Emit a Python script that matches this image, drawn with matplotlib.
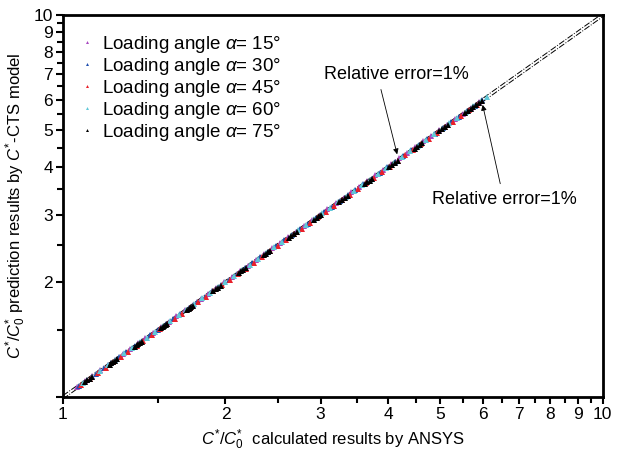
import matplotlib
matplotlib.use('Agg')
import matplotlib.pyplot as plt
from matplotlib.ticker import FixedLocator, NullFormatter, FixedFormatter

plt.rcParams['font.family'] = ['Liberation Sans', 'DejaVu Sans']
plt.rcParams['mathtext.fontset'] = 'custom'
plt.rcParams['mathtext.rm'] = 'Liberation Sans'
plt.rcParams['mathtext.it'] = 'Liberation Sans:italic'

# data (x = ANSYS, y = C*-CTS model)
x15 = [1.06, 1.10, 1.13, 1.17, 1.21, 1.25, 1.29, 1.33, 1.38, 1.42, 1.47, 1.52, 1.57, 1.62,
       1.68, 1.74, 1.80, 1.86, 1.92, 1.99, 2.06, 2.13, 2.20, 2.28, 2.36, 2.44, 2.52, 2.61,
       2.70, 2.79, 2.89, 2.99, 3.09, 3.20, 3.31, 3.42, 3.54, 3.66, 3.79, 3.92, 4.06, 4.20,
       4.34, 4.49, 4.65, 4.81, 4.97, 5.14, 5.32, 5.50, 5.69, 5.89]
y15 = [1.064, 1.104, 1.135, 1.175, 1.215, 1.255, 1.295, 1.336, 1.386, 1.426, 1.476, 1.526,
       1.576, 1.627, 1.687, 1.747, 1.807, 1.867, 1.928, 1.998, 2.068, 2.139, 2.209, 2.289,
       2.369, 2.450, 2.530, 2.620, 2.711, 2.801, 2.902, 3.002, 3.102, 3.213, 3.323, 3.434,
       3.554, 3.675, 3.805, 3.936, 4.076, 4.217, 4.357, 4.508, 4.669, 4.829, 4.990, 5.161,
       5.341, 5.522, 5.713, 5.914]

x30 = [1.07, 1.11, 1.15, 1.19, 1.23, 1.27, 1.31, 1.36, 1.40, 1.45, 1.50, 1.55, 1.60, 1.65,
       1.71, 1.77, 1.83, 1.89, 1.96, 2.03, 2.10, 2.17, 2.24, 2.32, 2.40, 2.48, 2.57, 2.66,
       2.75, 2.84, 2.94, 3.04, 3.15, 3.26, 3.37, 3.48, 3.60, 3.73, 3.86, 3.99, 4.13, 4.27,
       4.42, 4.57, 4.73, 4.89, 5.06, 5.23, 5.41, 5.60, 5.79, 5.98]
y30 = [1.071, 1.111, 1.151, 1.191, 1.231, 1.271, 1.311, 1.361, 1.401, 1.451, 1.502, 1.552,
       1.602, 1.652, 1.712, 1.772, 1.832, 1.892, 1.962, 2.032, 2.102, 2.172, 2.242, 2.322,
       2.402, 2.482, 2.573, 2.663, 2.753, 2.843, 2.943, 3.043, 3.153, 3.263, 3.373, 3.483,
       3.604, 3.734, 3.864, 3.994, 4.134, 4.274, 4.424, 4.575, 4.735, 4.895, 5.065, 5.235,
       5.415, 5.606, 5.796, 5.986]

x45 = [1.08, 1.12, 1.16, 1.20, 1.24, 1.28, 1.32, 1.37, 1.41, 1.46, 1.51, 1.56, 1.61, 1.66,
       1.72, 1.78, 1.84, 1.90, 1.97, 2.04, 2.11, 2.18, 2.26, 2.34, 2.42, 2.50, 2.59, 2.68,
       2.77, 2.87, 2.97, 3.07, 3.18, 3.29, 3.40, 3.52, 3.64, 3.77, 3.90, 4.03, 4.17, 4.31,
       4.46, 4.61, 4.77, 4.93, 5.10, 5.28, 5.46, 5.65, 5.84]
y45 = [1.076, 1.116, 1.155, 1.195, 1.235, 1.275, 1.315, 1.365, 1.404, 1.454, 1.504, 1.554,
       1.604, 1.653, 1.713, 1.773, 1.833, 1.892, 1.962, 2.032, 2.102, 2.171, 2.251, 2.331,
       2.410, 2.490, 2.580, 2.669, 2.759, 2.859, 2.958, 3.058, 3.167, 3.277, 3.386, 3.506,
       3.625, 3.755, 3.884, 4.014, 4.153, 4.293, 4.442, 4.592, 4.751, 4.910, 5.080, 5.259,
       5.438, 5.627, 5.817]

x60 = [1.09, 1.13, 1.17, 1.21, 1.25, 1.30, 1.34, 1.39, 1.43, 1.48, 1.53, 1.58, 1.64, 1.69,
       1.75, 1.81, 1.87, 1.94, 2.00, 2.07, 2.15, 2.22, 2.30, 2.38, 2.46, 2.55, 2.64, 2.73,
       2.82, 2.92, 3.02, 3.12, 3.23, 3.34, 3.46, 3.58, 3.70, 3.83, 3.96, 4.10, 4.24, 4.39,
       4.54, 4.70, 4.86, 5.03, 5.20, 5.38, 5.57, 5.76, 5.96, 6.10]
y60 = [1.092, 1.132, 1.172, 1.212, 1.253, 1.303, 1.343, 1.393, 1.433, 1.483, 1.533, 1.583,
       1.643, 1.693, 1.754, 1.814, 1.874, 1.944, 2.004, 2.074, 2.154, 2.224, 2.305, 2.385,
       2.465, 2.555, 2.645, 2.735, 2.826, 2.926, 3.026, 3.126, 3.236, 3.347, 3.467, 3.587,
       3.707, 3.838, 3.968, 4.108, 4.248, 4.399, 4.549, 4.709, 4.870, 5.040, 5.210, 5.391,
       5.581, 5.772, 5.972, 6.112]

x75 = [1.10, 1.11, 1.12, 1.13, 1.22, 1.23, 1.24, 1.25, 1.26, 1.36, 1.37, 1.38, 1.39, 1.40,
       1.52, 1.53, 1.54, 1.55, 1.56, 1.70, 1.71, 1.72, 1.73, 1.74, 1.90, 1.92, 1.94, 1.96,
       2.12, 2.14, 2.16, 2.18, 2.36, 2.38, 2.40, 2.42, 2.62, 2.65, 2.68, 2.71, 2.92, 2.95,
       2.98, 3.01, 3.25, 3.29, 3.33, 3.37, 3.62, 3.66, 3.70, 3.74, 4.02, 4.07, 4.12, 4.17,
       4.48, 4.53, 4.58, 4.63, 4.98, 5.04, 5.10, 5.16, 5.55, 5.62, 5.69, 5.76, 5.83, 5.90, 5.97]
y75 = [1.097, 1.107, 1.117, 1.127, 1.216, 1.226, 1.236, 1.246, 1.256, 1.356, 1.366, 1.376,
       1.386, 1.396, 1.515, 1.525, 1.535, 1.545, 1.555, 1.695, 1.705, 1.715, 1.725, 1.735,
       1.894, 1.914, 1.934, 1.954, 2.114, 2.134, 2.154, 2.173, 2.353, 2.373, 2.393, 2.413,
       2.612, 2.642, 2.672, 2.702, 2.911, 2.941, 2.971, 3.001, 3.240, 3.280, 3.320, 3.360,
       3.609, 3.649, 3.689, 3.729, 4.008, 4.058, 4.108, 4.157, 4.467, 4.516, 4.566, 4.616,
       4.965, 5.025, 5.085, 5.144, 5.533, 5.603, 5.673, 5.743, 5.813, 5.882, 5.952]

# +/-1% relative error lines
ref_x = [1, 10]
upper_y = [1.01, 10.1]
lower_y = [0.99, 9.9]

series = [
    (x15, y15, '#a848c0', '15'),
    (x30, y30, '#2050b0', '30'),
    (x45, y45, '#e8202a', '45'),
    (x60, y60, '#60c8d8', '60'),
    (x75, y75, 'black', '75'),
]

fig = plt.figure(figsize=(6.17, 4.54), dpi=100)
ax = fig.add_axes([0.102, 0.125, 0.875, 0.842])

ax.plot(ref_x, upper_y, color='black', lw=0.7, ls='-.', zorder=1)
ax.plot(ref_x, lower_y, color='black', lw=0.7, ls='-.', zorder=1)

for xs, ys, c, a in series:
    ax.plot(xs, ys, ls='none', marker='^', ms=4.3, mew=0, color=c,
            label=r'Loading angle $\alpha$= ' + a + '°', zorder=3)

ax.set_xscale('log')
ax.set_yscale('log')
ax.set_xlim(1, 10)
ax.set_ylim(1, 10)

major = [1, 2, 3, 4, 5, 6, 7, 8, 9, 10]
minor = [1.5, 2.5, 3.5, 4.5, 5.5, 6.5, 7.5, 8.5, 9.5]
ax.xaxis.set_major_locator(FixedLocator(major))
ax.xaxis.set_major_formatter(FixedFormatter([str(v) for v in major]))
ax.xaxis.set_minor_locator(FixedLocator(minor))
ax.xaxis.set_minor_formatter(NullFormatter())
ax.yaxis.set_major_locator(FixedLocator(major))
ax.yaxis.set_major_formatter(FixedFormatter([''] + [str(v) for v in major[1:]]))
ax.yaxis.set_minor_locator(FixedLocator(minor))
ax.yaxis.set_minor_formatter(NullFormatter())

ax.tick_params(which='both', direction='out', width=1.5, top=False, right=False,
               labelsize=12.5, pad=2)
ax.tick_params(which='major', length=5)
ax.tick_params(which='minor', length=4)
for s in ax.spines.values():
    s.set_linewidth(2)

ax.set_xlabel(r'$C^{*}/C_0^{*}$  calculated results by ANSYS', fontsize=12, labelpad=4)
ax.set_ylabel(r'$C^{*}/C_0^{*}$ prediction results by $C^{*}$-CTS model', fontsize=12, labelpad=4)

ax.annotate('Relative error=1%', xy=(4.16, 4.32), xytext=(4.15, 7.0),
            fontsize=13, ha='center', va='center',
            arrowprops=dict(arrowstyle='-|>', color='black', lw=0.6,
                            mutation_scale=8, shrinkA=3, shrinkB=0,
                            relpos=(0.38, 0.0)))
ax.annotate('Relative error=1%', xy=(5.99, 5.82), xytext=(6.58, 3.3),
            fontsize=13, ha='center', va='center',
            arrowprops=dict(arrowstyle='-|>', color='black', lw=0.6,
                            mutation_scale=8, shrinkA=3, shrinkB=0,
                            relpos=(0.48, 1.0)))

ax.legend(loc='upper left', frameon=False, fontsize=13.5, markerscale=0.5,
          handlelength=0.6, handletextpad=0.5, labelspacing=0.05,
          borderaxespad=0.3, bbox_to_anchor=(0.01, 0.985))

fig.savefig('out.png', dpi=100)
